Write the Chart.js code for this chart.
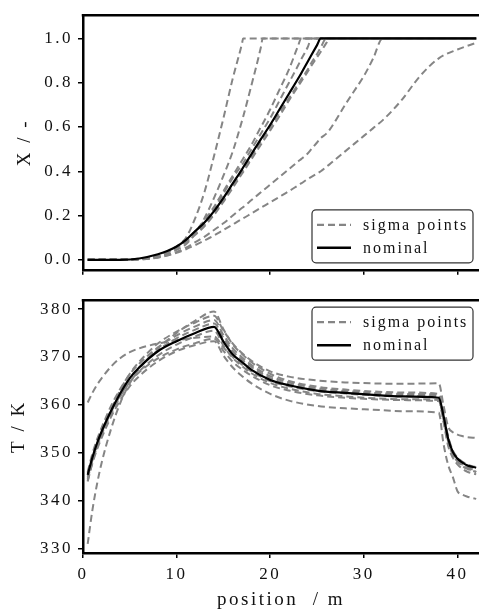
<!DOCTYPE html>
<html>
<head>
<meta charset="utf-8">
<script src="https://cdn.jsdelivr.net/npm/chart.js@4.4.1/dist/chart.umd.min.js"></script>
<style>
  html, body { margin: 0; padding: 0; background: #fff; overflow: hidden; }
  #top { position: absolute; left: 0; top: 0; width: 479px; height: 285px; }
  #bottom { position: absolute; left: 0; top: 285px; width: 479px; height: 326px; }
</style>
</head>
<body>
<div id="top"><canvas id="topChart"></canvas></div>
<div id="bottom"><canvas id="bottomChart"></canvas></div>
<script>
// tick values
const ticksPos = [0, 10, 20, 30, 40];
const ticksX = [0, 0.2, 0.4, 0.6, 0.8, 1.0];
const ticksT = [330, 340, 350, 360, 370, 380];

// positions along the reactor (m)
const posTop = [0.5, 4, 6, 8, 9, 10, 11, 12, 13, 14, 15, 16, 17, 17.1, 18, 19, 19.2, 20, 21, 22,
  23, 23.3, 24, 24.4, 25, 25.4, 26, 26.3, 27, 28, 29, 30, 31, 32, 34, 36, 38, 40, 42];

// conversion X
const nominalX = [0, 0, 0.006, 0.025, 0.04, 0.06, 0.09, 0.13, 0.17, 0.22, 0.28, 0.345, 0.41, 0.417, 0.478, 0.545, 0.558, 0.61, 0.68, 0.75,
  0.82, 0.842, 0.895, 0.925, 0.97, 1, 1, 1, 1, 1, 1, 1, 1, 1, 1, 1, 1, 1, 1];
const sigmaX = [
  [0, 0, 0.004, 0.015, 0.035, 0.06, 0.10, 0.19, 0.31, 0.47, 0.64, 0.82, 0.98, 1, 1, 1, 1, 1, 1, 1,
   1, 1, 1, 1, 1, 1, 1, 1, 1, 1, 1, 1, 1, 1, 1, 1, 1, 1, 1],
  [0, 0, 0.003, 0.012, 0.025, 0.045, 0.07, 0.12, 0.19, 0.28, 0.38, 0.49, 0.63, 0.645, 0.79, 0.96, 1, 1, 1, 1,
   1, 1, 1, 1, 1, 1, 1, 1, 1, 1, 1, 1, 1, 1, 1, 1, 1, 1, 1],
  [0, 0, 0.004, 0.016, 0.035, 0.06, 0.09, 0.13, 0.18, 0.24, 0.31, 0.38, 0.45, 0.457, 0.52, 0.60, 0.615, 0.68, 0.77, 0.86,
   0.97, 1, 1, 1, 1, 1, 1, 1, 1, 1, 1, 1, 1, 1, 1, 1, 1, 1, 1],
  [0, 0, 0.004, 0.015, 0.033, 0.058, 0.085, 0.12, 0.17, 0.23, 0.30, 0.37, 0.43, 0.436, 0.50, 0.57, 0.584, 0.64, 0.72, 0.80,
   0.88, 0.905, 0.96, 1, 1, 1, 1, 1, 1, 1, 1, 1, 1, 1, 1, 1, 1, 1, 1],
  [0, 0, 0.005, 0.02, 0.038, 0.058, 0.085, 0.12, 0.16, 0.21, 0.27, 0.335, 0.40, 0.406, 0.465, 0.535, 0.548, 0.60, 0.665, 0.73,
   0.795, 0.815, 0.86, 0.89, 0.93, 0.96, 1, 1, 1, 1, 1, 1, 1, 1, 1, 1, 1, 1, 1],
  [0, 0, 0.004, 0.016, 0.033, 0.053, 0.08, 0.113, 0.153, 0.203, 0.262, 0.325, 0.39, 0.396, 0.455, 0.52, 0.533, 0.585, 0.65, 0.72,
   0.785, 0.805, 0.85, 0.877, 0.915, 0.94, 0.98, 1, 1, 1, 1, 1, 1, 1, 1, 1, 1, 1, 1],
  [0, 0, 0.002, 0.01, 0.02, 0.035, 0.055, 0.08, 0.105, 0.135, 0.165, 0.20, 0.235, 0.238, 0.27, 0.305, 0.312, 0.34, 0.375, 0.41,
   0.445, 0.455, 0.48, 0.5, 0.53, 0.55, 0.57, 0.585, 0.63, 0.70, 0.765, 0.83, 0.91, 1, 1, 1, 1, 1, 1],
  [0, 0, 0.002, 0.01, 0.02, 0.032, 0.048, 0.067, 0.088, 0.11, 0.135, 0.16, 0.185, 0.187, 0.21, 0.235, 0.24, 0.26, 0.285, 0.31,
   0.337, 0.345, 0.365, 0.375, 0.39, 0.40, 0.42, 0.43, 0.455, 0.49, 0.525, 0.56, 0.595, 0.63, 0.72, 0.83, 0.91, 0.95, 0.98]
];

const posBottom = [0.5, 1, 1.5, 2, 3, 4, 5, 6, 8, 10, 12, 14, 15, 16, 17, 18, 20, 22, 25, 28,
  31, 34, 38, 38.5, 39, 39.5, 40, 40.5, 41, 42];

// temperature T (K)
const nominalT = [345.4, 349, 352, 354.5, 358.8, 362.5, 365.6, 367.8, 371.2, 373.3, 375, 376.3, 373.2, 370.5, 368.9, 367.3, 365.2, 364.1, 363, 362.5,
  362.1, 361.8, 361.5, 357.8, 353, 350.2, 348.8, 348, 347.4, 346.9];
const sigmaT = [
  [360.5, 362.5, 364.2, 365.6, 368, 369.8, 371, 371.8, 372.8, 373.5, 374, 374.3, 372, 370, 368.4, 367, 365, 363.9, 362.9, 362.4,
   362, 361.8, 361.6, 358, 353.5, 350.5, 349, 348.2, 347.6, 347],
  [331, 338, 343.5, 348, 355, 360.5, 364.5, 367.5, 371.8, 375, 377.6, 379.5, 375.8, 372.6, 370.6, 368.9, 366.5, 365, 363.8, 363.2,
   362.8, 362.6, 362.3, 358, 353, 350, 348.4, 347.4, 346.8, 346],
  [344, 348, 351.3, 354.2, 359, 363.2, 366.5, 369, 372.8, 375.3, 377.2, 378.6, 375.5, 372.8, 370.8, 369.2, 367, 365.9, 365.1, 364.7,
   364.5, 364.4, 364.5, 360, 355.5, 354.3, 353.8, 353.5, 353.3, 353.1],
  [346, 349.8, 352.8, 355.3, 359.8, 363.4, 366.4, 368.6, 372, 374.5, 376.4, 377.7, 374.6, 371.8, 369.9, 368.3, 366, 364.7, 363.5, 362.9,
   362.5, 362.3, 362.1, 358, 353.2, 350.3, 348.9, 348, 347.4, 346.6],
  [345, 348.6, 351.6, 354.2, 358.6, 362.4, 365.5, 367.8, 371.4, 373.9, 375.7, 377, 374, 371.2, 369.4, 367.9, 365.6, 364.3, 363.2, 362.6,
   362.2, 362, 361.8, 357.6, 352.8, 349.8, 348.4, 347.6, 347, 346.2],
  [344.6, 348.3, 351.2, 353.8, 358.1, 361.8, 364.8, 367, 370.3, 372.6, 374.3, 375.5, 372.4, 369.8, 368.1, 366.6, 364.6, 363.4, 362.3, 361.8,
   361.4, 361.2, 361, 357, 352.4, 349.6, 348.2, 347.3, 346.7, 346],
  [345.8, 349.3, 352.1, 354.6, 358.6, 362, 364.8, 366.8, 369.7, 371.6, 372.9, 373.8, 371.3, 369, 367.4, 366.1, 364.1, 363, 362, 361.5,
   361.2, 361, 360.8, 356.5, 351.5, 349, 347.6, 346.7, 346.1, 345.5],
  [344.2, 347.8, 350.7, 353.2, 357.5, 361, 363.9, 366, 369.1, 371.2, 372.5, 373.3, 370.3, 367.8, 366, 364.5, 362.3, 360.9, 359.8, 359.3,
   359, 358.7, 358.4, 352, 347.5, 345, 342, 341.3, 340.9, 340.4]
];

const SERIF = '"Liberation Serif", "Times New Roman", serif';
const GREY = '#858585';

// canvas text in the figure is widely spaced
const spacing = {
  id: 'spacing',
  beforeLayout(chart) { chart.ctx.letterSpacing = '2.5px'; },
  beforeDraw(chart) { chart.ctx.letterSpacing = '2.5px'; }
};

// top edge of the frame
const frame = {
  id: 'frame',
  afterDraw(chart) {
    const { ctx, chartArea: a } = chart;
    ctx.save();
    ctx.strokeStyle = '#000';
    ctx.lineWidth = 2.5;
    ctx.beginPath();
    ctx.moveTo(a.left - 1.25, a.top);
    ctx.lineTo(a.right, a.top);
    ctx.stroke();
    ctx.restore();
  }
};

// boxed legend inside the plot
const boxLegend = {
  id: 'boxLegend',
  afterDatasetsDraw(chart, args, opts) {
    const { ctx, chartArea: a } = chart;
    const w = 161, h = 53;
    const x0 = a.right - 6 - w;
    const y0 = opts.place === 'top' ? a.top + 7 : a.bottom - 7 - h;
    ctx.save();
    ctx.letterSpacing = '2px';
    ctx.beginPath();
    ctx.roundRect(x0, y0, w, h, 4);
    ctx.fillStyle = '#fff';
    ctx.fill();
    ctx.strokeStyle = '#333';
    ctx.lineWidth = 1.2;
    ctx.stroke();
    const items = [chart.data.datasets[1], chart.data.datasets[0]];
    items.forEach((ds, i) => {
      const y = y0 + 15 + i * 23;
      ctx.beginPath();
      ctx.setLineDash(ds.borderDash || []);
      ctx.strokeStyle = ds.borderColor;
      ctx.lineWidth = ds.borderWidth + 0.3;
      ctx.moveTo(x0 + 5, y);
      ctx.lineTo(x0 + 39, y);
      ctx.stroke();
      ctx.setLineDash([]);
      ctx.fillStyle = '#111';
      ctx.font = '16px ' + SERIF;
      ctx.textBaseline = 'middle';
      ctx.fillText(ds.label, x0 + 51, y + 1);
    });
    ctx.restore();
  }
};

function makeDatasets(pos, nominal, sigmas) {
  const sets = [{
    label: 'nominal',
    data: pos.map((x, i) => ({ x: x, y: nominal[i] })),
    borderColor: '#000',
    borderWidth: 2.2
  }];
  sigmas.forEach(vals => {
    sets.push({
      label: 'sigma points',
      data: pos.map((x, i) => ({ x: x, y: vals[i] })),
      borderColor: GREY,
      borderWidth: 2,
      borderDash: [7, 4]
    });
  });
  return sets;
}

function axisLook(tickValues, extra) {
  return Object.assign({
    type: 'linear',
    bounds: 'data',
    afterBuildTicks(s) { s.ticks = tickValues.map(v => ({ value: v })); },
    grid: { drawOnChartArea: false, drawTicks: true, tickLength: 5, color: '#000', lineWidth: 1.5 },
    border: { display: true, color: '#000', width: 2.5 }
  }, extra);
}

function baseOptions(yAxis, xAxis, padTop, legendPlace) {
  return {
    responsive: true,
    maintainAspectRatio: false,
    animation: false,
    layout: { padding: { top: padTop, right: 0, left: 0, bottom: 0 } },
    elements: {
      point: { radius: 0 },
      line: { cubicInterpolationMode: 'monotone', fill: false }
    },
    plugins: {
      legend: { display: false },
      tooltip: { enabled: false },
      boxLegend: { place: legendPlace }
    },
    scales: { x: xAxis, y: yAxis }
  };
}

const tickFont = { family: SERIF, size: 17 };
const titleFont = { family: SERIF, size: 19 };

new Chart(document.getElementById('topChart'), {
  type: 'line',
  data: { datasets: makeDatasets(posTop, nominalX, sigmaX) },
  options: baseOptions(
    axisLook(ticksX, {
      min: -0.045, max: 1.105,
      ticks: { padding: 5, color: '#111', font: tickFont, callback: v => v.toFixed(1) },
      title: { display: true, text: 'X / -', color: '#111', font: titleFont, padding: { top: 14 } },
      afterFit(s) { s.width = 83; }
    }),
    axisLook(ticksPos, {
      min: 0, max: 42.3,
      // the upper plot repeats the tick marks but not the numbers
      ticks: { color: 'rgba(0,0,0,0)', font: tickFont },
      afterFit(s) { s.height = 15; }
    }),
    13, 'bottom'
  ),
  plugins: [spacing, frame, boxLegend]
});

new Chart(document.getElementById('bottomChart'), {
  type: 'line',
  data: { datasets: makeDatasets(posBottom, nominalT, sigmaT) },
  options: baseOptions(
    axisLook(ticksT, {
      min: 329.1, max: 381.85,
      ticks: { padding: 5, color: '#111', font: tickFont },
      title: { display: true, text: 'T / K', color: '#111', font: titleFont, padding: { top: 8 } },
      afterFit(s) { s.width = 83; }
    }),
    axisLook(ticksPos, {
      min: 0, max: 42.3,
      ticks: { padding: 6, color: '#111', font: tickFont },
      title: { display: true, text: 'position  / m', color: '#111', font: titleFont, padding: { bottom: 0 } },
      afterFit(s) { s.height = 58; }
    }),
    11, 'top'
  ),
  plugins: [spacing, frame, boxLegend]
});
</script>
</body>
</html>
